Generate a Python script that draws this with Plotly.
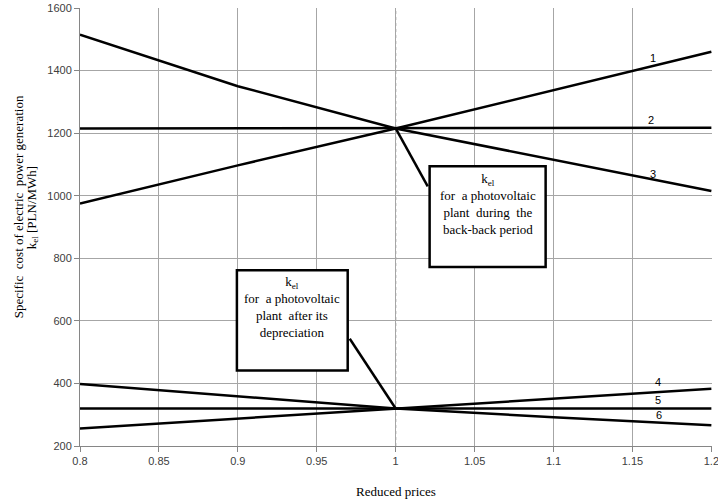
import plotly.graph_objects as go

prices = [0.8, 0.9, 1.0, 1.1, 1.2]
line1 = [975, 1097, 1215, 1338, 1460]
line2 = [1215, 1215, 1215, 1216, 1217]
line3 = [1515, 1350, 1215, 1115, 1015]
line4 = [256, 288, 320, 350, 383]
line5 = [320, 320, 320, 320, 320]
line6 = [398, 358, 320, 292, 266]
series = [line1, line2, line3, line4, line5, line6]
labels = ["1", "2", "3", "4", "5", "6"]
label_pos = [(1.163, 1441), (1.162, 1243), (1.163, 1071), (1.166, 403), (1.166, 346), (1.167, 298)]

xticks = [0.8, 0.85, 0.9, 0.95, 1.0, 1.05, 1.1, 1.15, 1.2]
xticktext = ["0.8", "0.85", "0.9", "0.95", "1", "1.05", "1.1", "1.15", "1.2"]
yticks = [200, 400, 600, 800, 1000, 1200, 1400, 1600]

fig = go.Figure()
for s in series:
    fig.add_trace(go.Scatter(x=prices, y=s, mode="lines",
                             line=dict(color="black", width=2.5), showlegend=False))

serif = "Liberation Serif, Times New Roman, serif"
sans = "Liberation Sans, Arial, sans-serif"

annotations = []
for lab, (lx, ly) in zip(labels, label_pos):
    annotations.append(dict(x=lx, y=ly, text=lab, showarrow=False,
                            font=dict(family=sans, size=11, color="black")))

shapes = [
    dict(type="line", x0=1.0, x1=1.0, y0=200, y1=1600, xref="x", yref="y",
         line=dict(color="#555555", width=1, dash="dot"), layer="below"),
    # callout pointers
    dict(type="line", x0=1.0, y0=1215, x1=1.0203, y1=1030, xref="x", yref="y",
         line=dict(color="black", width=2.5)),
    dict(type="line", x0=0.9709, y0=543, x1=1.0, y1=320, xref="x", yref="y",
         line=dict(color="black", width=2.5)),
    # boxes
    dict(type="rect", x0=1.0215, x1=1.095, y0=772, y1=1094, xref="x", yref="y",
         line=dict(color="black", width=2.5), fillcolor="white"),
    dict(type="rect", x0=0.8994, x1=0.9696, y0=441, y1=762, xref="x", yref="y",
         line=dict(color="black", width=2.5), fillcolor="white"),
]

annotations.append(dict(x=1.0583, y=1085, yanchor="top", showarrow=False, align="center",
                        text="k<sub>el</sub><br>for  a photovoltaic<br>plant  during  the<br>back-back period",
                        font=dict(family=serif, size=13, color="black")))
annotations.append(dict(x=0.9345, y=755, yanchor="top", showarrow=False, align="center",
                        text="k<sub>el</sub><br>for  a photovoltaic<br>plant  after its<br>depreciation",
                        font=dict(family=serif, size=13, color="black")))

# y-axis title as two rotated lines
annotations.append(dict(xref="paper", x=0, xshift=-62, yref="y", y=963, textangle=-90,
                        showarrow=False, xanchor="center", yanchor="middle",
                        text="Specific  cost of electric  power generation",
                        font=dict(family=serif, size=13, color="black")))
annotations.append(dict(xref="paper", x=0, xshift=-48, yref="y", y=963, textangle=-90,
                        showarrow=False, xanchor="center", yanchor="middle",
                        text="k<sub>el</sub> [PLN/MWh]",
                        font=dict(family=serif, size=13, color="black")))

fig.update_layout(
    width=718, height=502,
    margin=dict(l=80, r=6, t=8, b=56),
    plot_bgcolor="white", paper_bgcolor="white",
    shapes=shapes, annotations=annotations,
    xaxis=dict(range=[0.8, 1.2004], tickvals=xticks, ticktext=xticktext,
               showgrid=True, gridcolor="#a6a6a6", gridwidth=1,
               showline=True, linecolor="#868686", linewidth=1,
               ticks="outside", ticklen=5, tickcolor="#868686",
               tickfont=dict(family=sans, size=11, color="#404040"),
               ticklabeloverflow="allow",
               zeroline=False, automargin=False,
               title=dict(text="Reduced prices", font=dict(family=serif, size=13, color="black"), standoff=20)),
    yaxis=dict(range=[200, 1600], tickvals=yticks,
               showgrid=True, gridcolor="#a6a6a6", gridwidth=1,
               showline=True, linecolor="#868686", linewidth=1,
               ticks="outside", ticklen=5, tickcolor="#868686",
               tickfont=dict(family=sans, size=11, color="#404040"),
               zeroline=False, automargin=False),
)

fig.write_html("out.html", post_script="document.body.style.margin='0';",
               config={"displayModeBar": False})
